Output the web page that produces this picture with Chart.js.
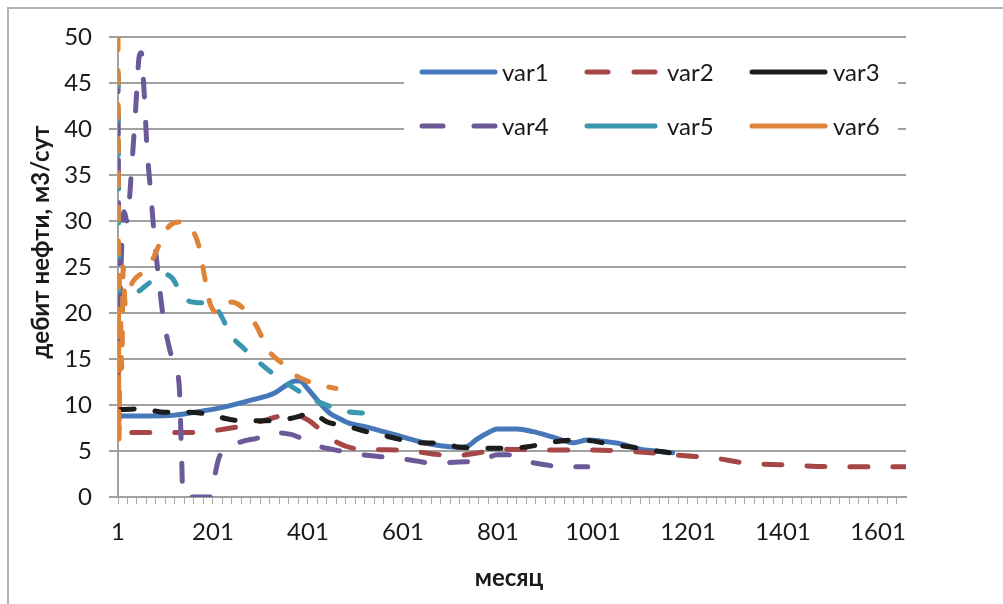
<!DOCTYPE html>
<html><head><meta charset="utf-8">
<script src="https://cdn.jsdelivr.net/npm/chart.js@4.4.1/dist/chart.umd.min.js"></script>
<style>html,body{margin:0;padding:0;background:#fff;}#wrap{width:1003px;height:604px;position:relative;}</style>
</head><body><div id="wrap"><canvas id="c" width="1003" height="604"></canvas></div>
<script>
// ---- data (month index, oil rate m3/day) ----
const seriesNames = ['var1', 'var2', 'var3', 'var4', 'var5', 'var6'];

const var1Month = [1, 4, 68, 121, 174, 226, 279, 331, 357, 374, 384, 400, 426, 447, 468, 489, 525, 560, 595, 630, 664, 715, 736, 757, 784, 799, 841, 875, 917, 960, 989, 1016, 1058, 1100, 1131, 1169];
const var1Rate  = [9.6, 8.8, 8.8, 8.9, 9.3, 9.8, 10.5, 11.3, 12.2, 12.6, 12.6, 11.8, 10.2, 9.1, 8.5, 8.0, 7.6, 7.1, 6.6, 6.1, 5.7, 5.4, 5.5, 6.3, 7.1, 7.4, 7.4, 7.1, 6.5, 5.9, 6.2, 6.1, 5.8, 5.2, 5.0, 4.8];

const var2Month = [1, 4, 100, 150, 200, 250, 300, 350, 380, 400, 430, 460, 510, 600, 660, 710, 760, 810, 900, 1000, 1100, 1190, 1260, 1320, 1400, 1500, 1660];
const var2Rate  = [15, 7.0, 7.0, 7.0, 7.2, 7.6, 8.2, 8.8, 8.8, 8.4, 7.2, 6.0, 5.2, 5.1, 4.7, 4.5, 4.8, 5.2, 5.1, 5.1, 4.9, 4.5, 4.2, 3.7, 3.5, 3.3, 3.3];

const var3Month = [1, 4, 50, 100, 150, 200, 230, 260, 330, 370, 410, 440, 490, 525, 560, 600, 640, 690, 720, 790, 830, 880, 920, 960, 1000, 1040, 1085, 1120, 1165, 1205];
const var3Rate  = [13, 9.5, 9.6, 9.2, 9.2, 8.9, 8.5, 8.3, 8.3, 8.6, 9.1, 8.2, 7.6, 7.1, 6.7, 6.2, 5.9, 5.8, 5.4, 5.3, 5.3, 5.6, 6.0, 6.2, 6.1, 5.7, 5.4, 5.1, 4.8, 4.6];

const var4Month = [1, 4, 8, 14, 20, 30, 38, 46, 50, 56, 62, 70, 78, 86, 95, 110, 122, 130, 134, 138, 196, 200, 212, 222, 260, 295, 330, 365, 395, 425, 470, 530, 570, 620, 660, 720, 770, 800, 820, 860, 900, 940, 990];
const var4Rate  = [46, 17, 26, 31, 30, 36, 42, 48, 48.3, 44, 38, 33, 28, 24, 20, 16, 14, 12, 6, 0, 0, 1, 4, 5.0, 6.0, 6.4, 7.0, 6.8, 6.2, 5.5, 5.0, 4.5, 4.3, 4.0, 3.7, 3.8, 4.0, 4.6, 4.6, 3.9, 3.5, 3.3, 3.3];

const var5Month = [1, 4, 40, 60, 80, 100, 115, 130, 150, 180, 200, 215, 240, 265, 290, 320, 355, 385, 400, 420, 450, 480, 520];
const var5Rate  = [46, 22.3, 22.3, 23.0, 23.8, 24.2, 23.8, 22.5, 21.3, 21.1, 21.0, 20.0, 17.5, 16.2, 15.0, 13.7, 12.4, 11.4, 10.9, 10.4, 9.8, 9.3, 9.1];

const var6Month = [1, 3, 6, 9, 12, 16, 25, 35, 50, 65, 80, 95, 110, 130, 150, 170, 185, 195, 215, 240, 265, 290, 320, 345, 370, 395, 440, 460];
const var6Rate  = [50, 6, 20, 14, 25, 21, 22.6, 23.6, 24.3, 25, 26.5, 28.3, 29.5, 29.9, 29.5, 27.5, 23.5, 21, 20, 21.2, 20.5, 18.8, 15.8, 14.6, 13.4, 12.7, 12.0, 11.8];

const xTickLabels = ['1', '201', '401', '601', '801', '1001', '1201', '1401', '1601'];
const yTickLabels = ['0', '5', '10', '15', '20', '25', '30', '35', '40', '45', '50'];

const colors = ['#4677b8', '#a64646', '#1c1c1c', '#6c5a98', '#3a97b0', '#de8439'];
const longDash = [18, 25];
const shortDash = [13, 21];
const dashes = [[], longDash, shortDash, longDash, shortDash, shortDash];

const FONT = "Lato, 'Open Sans', 'DejaVu Sans', sans-serif";
Chart.defaults.font.family = FONT;

const monthArrays = [var1Month, var2Month, var3Month, var4Month, var5Month, var6Month];
const rateArrays = [var1Rate, var2Rate, var3Rate, var4Rate, var5Rate, var6Rate];

const datasets = seriesNames.map((n, i) => ({
  label: n,
  data: monthArrays[i].map((m, k) => ({ x: m, y: rateArrays[i][k] })),
  borderColor: colors[i],
  backgroundColor: colors[i],
  borderWidth: 5,
  borderDash: dashes[i],
  borderCapStyle: 'round',
  borderJoinStyle: 'round',
  pointRadius: 0,
  cubicInterpolationMode: 'monotone',
  order: seriesNames.length - i,
  fill: false
}));

const xTickValues = [];
for (let v = 1; v <= 1660; v += 20) xTickValues.push(v);

const decor = {
  id: 'decor',
  afterDraw(chart) {
    const ctx = chart.ctx;
    ctx.save();
    // outer frame
    ctx.strokeStyle = '#b2b2b2';
    ctx.lineWidth = 2;
    ctx.beginPath();
    ctx.moveTo(8, 604); ctx.lineTo(8, 8); ctx.lineTo(1003, 8);
    ctx.stroke();
    // axis titles
    ctx.fillStyle = '#1a1a1a';
    ctx.font = 'bold 24px ' + FONT;
    ctx.textAlign = 'center';
    ctx.textBaseline = 'middle';
    ctx.fillText('месяц', 509, 578);
    ctx.save();
    ctx.translate(41, 242);
    ctx.rotate(-Math.PI / 2);
    ctx.fillText('дебит нефти, м3/сут', 0, 0);
    ctx.restore();
    // legend box
    ctx.fillStyle = '#ffffff';
    ctx.fillRect(404, 46, 494, 116);
    const cols = [[422, 495, 502], [587, 655, 667], [752, 825, 833]];
    const rows = [72, 126];
    seriesNames.forEach((n, i) => {
      const c = cols[i % 3], y = rows[Math.floor(i / 3)];
      ctx.strokeStyle = colors[i];
      ctx.lineWidth = 5;
      ctx.lineCap = 'round';
      ctx.beginPath();
      if (i === 1 || i === 3) {
        ctx.moveTo(c[0], y); ctx.lineTo(c[0] + 21, y);
        ctx.moveTo(c[1] - 21, y); ctx.lineTo(c[1], y);
      } else {
        ctx.moveTo(c[0], y); ctx.lineTo(c[1], y);
      }
      ctx.stroke();
      ctx.fillStyle = '#1a1a1a';
      ctx.font = '24px ' + FONT;
      ctx.textAlign = 'left';
      ctx.textBaseline = 'middle';
      ctx.fillText(n, c[2], y + 1);
    });
    ctx.restore();
  }
};

new Chart(document.getElementById('c'), {
  type: 'line',
  data: { datasets },
  options: {
    responsive: false,
    animation: false,
    devicePixelRatio: 1,
    layout: { padding: { left: 0, right: 97, top: 37, bottom: 0 } },
    plugins: { legend: { display: false }, tooltip: { enabled: false } },
    scales: {
      x: {
        type: 'linear',
        min: 1,
        max: 1660,
        afterBuildTicks: (s) => { s.ticks = xTickValues.map(v => ({ value: v })); },
        afterFit: (s) => { s.height = 107; },
        ticks: {
          autoSkip: false, maxRotation: 0, minRotation: 0,
          color: '#1a1a1a', font: { size: 24 }, padding: 14,
          callback: (v) => { const s = String(v); return xTickLabels.includes(s) ? s : ''; }
        },
        grid: { drawOnChartArea: false, tickLength: 7, color: '#a8a8a8', lineWidth: 1 },
        border: { color: '#a0a0a0', width: 2 }
      },
      y: {
        min: 0,
        max: 50,
        afterBuildTicks: (s) => { s.ticks = yTickLabels.map(t => ({ value: Number(t) })); },
        afterFit: (s) => { s.width = 118; },
        ticks: { color: '#1a1a1a', font: { size: 24 }, padding: 17 },
        grid: { color: '#a0a0a0', lineWidth: 2, tickLength: 9 },
        border: { color: '#a0a0a0', width: 2 }
      }
    }
  },
  plugins: [decor]
});
</script></body></html>
